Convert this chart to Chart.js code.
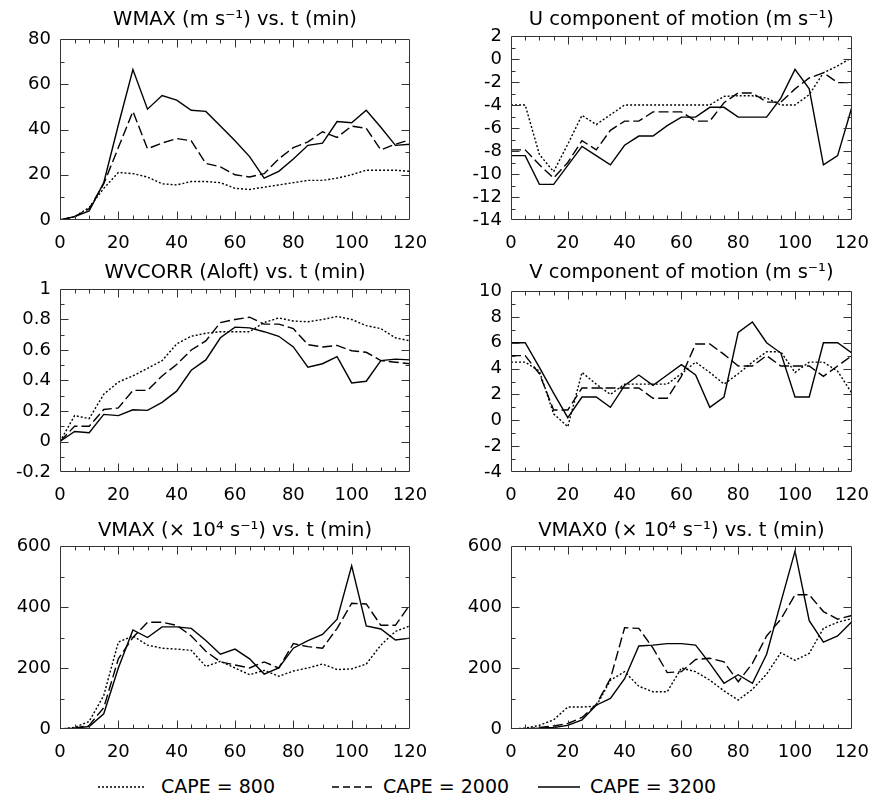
<!DOCTYPE html>
<html>
<head>
<meta charset="utf-8">
<script src="https://cdn.jsdelivr.net/npm/chart.js@4"></script>
<style>
  body { margin: 0; background: #fff; }
  #page { position: relative; width: 882px; height: 801px; overflow: hidden; font-family: "DejaVu Sans", sans-serif; color: #000; }
  #page canvas { position: absolute; }
  .sample { position: absolute; top: 785px; }
  .key { position: absolute; top: 775px; line-height: 22px; font-size: 19px; white-space: nowrap; }
</style>
</head>
<body>
<div id="page">
  <svg class="sample" style="left:98px" width="48" height="4"><line x1="0" y1="2" x2="48" y2="2" stroke="#000" stroke-width="1.3" stroke-dasharray="2 2"/></svg>
  <span class="key" style="left:161px">CAPE = 800</span>
  <svg class="sample" style="left:332px" width="42" height="4"><line x1="0" y1="2" x2="42" y2="2" stroke="#000" stroke-width="1.3" stroke-dasharray="7 4"/></svg>
  <span class="key" style="left:383px">CAPE = 2000</span>
  <svg class="sample" style="left:538px" width="42" height="4"><line x1="0" y1="2" x2="42" y2="2" stroke="#000" stroke-width="1.3"/></svg>
  <span class="key" style="left:590px">CAPE = 3200</span>
</div>
<script>
const times = [0, 5, 10, 15, 20, 25, 30, 35, 40, 45, 50, 55, 60, 65, 70, 75, 80, 85, 90, 95, 100, 105, 110, 115, 120]
const cases = ["CAPE = 800", "CAPE = 2000", "CAPE = 3200"]

const wmax800 = [0, 1.5, 5.5, 14, 21, 20.5, 19, 16, 15.5, 17, 17, 16.5, 14, 13.5, 14.5, 15.5, 16.5, 17.5, 17.5, 18.5, 20, 22, 22, 22, 21.5]
const wmax2000 = [0, 1.5, 5, 16, 32, 48, 31.5, 34, 36, 35, 25, 23.5, 20, 19, 20.5, 27, 32, 34.5, 39, 36.5, 41.5, 40.5, 31, 33.5, 35.5]
const wmax3200 = [0, 1.5, 4, 16.5, 42, 66.5, 49, 55, 53, 48.5, 48, 41.5, 35, 28, 18.5, 21.5, 27, 33, 34, 43.5, 43, 48.5, 41, 33, 33.5]

const u800 = [-4, -4, -8.3, -9.8, -7.4, -4.9, -5.7, -4.85, -4, -4, -4, -4, -4, -4, -4, -3.25, -3.2, -3.2, -3.4, -4, -4, -3.1, -1.2, -0.6, 0.1]
const u2000 = [-7.9, -7.9, -9.2, -10.35, -9, -7.1, -7.9, -6.2, -5.4, -5.4, -4.6, -4.6, -4.6, -5.4, -5.4, -3.8, -2.95, -2.95, -3.75, -3.75, -2.6, -1.65, -1.2, -2.05, -2.05]
const u3200 = [-8.4, -8.4, -10.9, -10.9, -9.25, -7.6, -8.4, -9.2, -7.5, -6.7, -6.7, -5.8, -5.05, -5.05, -4.2, -4.2, -5.05, -5.05, -5.05, -3.4, -0.9, -2.6, -9.2, -8.4, -4.2]

const wv800 = [0, 0.17, 0.15, 0.31, 0.39, 0.43, 0.48, 0.53, 0.64, 0.69, 0.71, 0.72, 0.72, 0.72, 0.78, 0.81, 0.79, 0.785, 0.8, 0.82, 0.8, 0.76, 0.74, 0.68, 0.66]
const wv2000 = [0, 0.1, 0.1, 0.21, 0.22, 0.335, 0.335, 0.43, 0.505, 0.6, 0.66, 0.78, 0.8, 0.815, 0.77, 0.77, 0.74, 0.635, 0.62, 0.63, 0.595, 0.585, 0.53, 0.52, 0.51]
const wv3200 = [0, 0.066, 0.057, 0.178, 0.17, 0.208, 0.204, 0.257, 0.33, 0.467, 0.535, 0.68, 0.75, 0.745, 0.72, 0.69, 0.62, 0.487, 0.51, 0.557, 0.384, 0.395, 0.53, 0.54, 0.535]

const v800 = [4.5, 4.5, 3.8, 0.5, -0.5, 3.7, 2.8, 2.0, 2.8, 2.8, 2.8, 2.8, 3.6, 4.5, 3.7, 2.8, 3.6, 4.5, 5.3, 5.3, 3.7, 4.5, 4.5, 3.8, 2.1]
const v2000 = [5.0, 5.0, 3.6, 0.8, 0.8, 2.5, 2.5, 2.5, 2.5, 2.5, 1.7, 1.7, 3.4, 5.9, 5.9, 5.1, 4.2, 4.2, 5.0, 4.2, 4.2, 4.2, 3.4, 4.2, 5.0]
const v3200 = [6, 6, 4.1, 2.1, 0.2, 1.8, 1.8, 1.0, 2.7, 3.5, 2.7, 3.5, 4.3, 3.5, 1.0, 1.8, 6.8, 7.6, 6.0, 5.2, 1.8, 1.8, 6.0, 6.0, 5.2]

const vmax800 = [0, 5, 25, 110, 285, 305, 275, 265, 262, 258, 205, 222, 200, 178, 192, 173, 190, 200, 213, 195, 197, 213, 275, 320, 338]
const vmax2000 = [0, 3, 12, 70, 230, 300, 350, 350, 340, 305, 255, 220, 210, 200, 220, 200, 280, 270, 265, 330, 412, 410, 340, 340, 408]
const vmax3200 = [0, 3, 8, 50, 200, 325, 300, 335, 335, 330, 290, 245, 262, 230, 180, 200, 265, 290, 310, 360, 535, 338, 328, 292, 298]

const vmax0800 = [0, 3, 12, 30, 72, 72, 75, 160, 188, 140, 122, 122, 200, 188, 160, 125, 95, 130, 180, 250, 225, 248, 330, 350, 362]
const vmax02000 = [0, 0, 5, 10, 18, 38, 80, 165, 332, 330, 265, 185, 188, 228, 232, 220, 155, 215, 305, 360, 440, 440, 385, 360, 372]
const vmax03200 = [0, 0, 3, 5, 12, 30, 78, 100, 165, 272, 275, 280, 280, 275, 215, 150, 178, 150, 245, 415, 583, 355, 285, 305, 352]

const family = "'DejaVu Sans', sans-serif"
const dashes = [[2, 2], [10, 4], []]
const titleSize = 19.5
const tickSize = 18

// box = canvas rect, area = wanted plot frame (page px)
const panels = [
  { title: "WMAX (m s⁻¹) vs. t (min)", series: [wmax800, wmax2000, wmax3200],
    yMin: 0, yMax: 80, yStep: 20, yMinor: 10, box: [0, 0, 441, 262], area: [60, 39, 410, 220], titleY: 20 },
  { title: "U component of motion (m s⁻¹)", series: [u800, u2000, u3200],
    yMin: -14, yMax: 2, yStep: 2, yMinor: 1, box: [441, 0, 441, 262], area: [511, 36, 862, 220], titleY: 20 },
  { title: "WVCORR (Aloft) vs. t (min)", series: [wv800, wv2000, wv3200],
    yMin: -0.2, yMax: 1, yStep: 0.2, yMinor: 0.1, box: [0, 258, 441, 252], area: [60, 289, 410, 472], titleY: 273 },
  { title: "V component of motion (m s⁻¹)", series: [v800, v2000, v3200],
    yMin: -4, yMax: 10, yStep: 2, yMinor: 1, box: [441, 258, 441, 252], area: [511, 291, 862, 472], titleY: 273 },
  { title: "VMAX (× 10⁴ s⁻¹) vs. t (min)", series: [vmax800, vmax2000, vmax3200],
    yMin: 0, yMax: 600, yStep: 200, yMinor: 100, box: [0, 510, 441, 262], area: [60, 546, 410, 729], titleY: 531 },
  { title: "VMAX0 (× 10⁴ s⁻¹) vs. t (min)", series: [vmax0800, vmax02000, vmax03200],
    yMin: 0, yMax: 600, yStep: 200, yMinor: 100, box: [441, 510, 441, 262], area: [511, 546, 862, 729], titleY: 531 }
]

const onStep = (v, step) => Math.abs(v / step - Math.round(v / step)) < 1e-6

// frame + inward ticks on all four sides
const frameTicks = {
  id: "frameTicks",
  afterDatasetsDraw(chart, args, o) {
    const { ctx, chartArea: a, scales: { x, y } } = chart
    const L = Math.round(a.left) + 0.5, R = Math.round(a.right) - 0.5
    const T = Math.round(a.top) + 0.5, B = Math.round(a.bottom) - 0.5
    ctx.save()
    ctx.strokeStyle = "#333"
    ctx.lineWidth = 1
    ctx.beginPath()
    const nx = Math.round((x.max - x.min) / o.xMinor)
    for (let i = 1; i < nx; i++) {
      const v = x.min + i * o.xMinor
      const px = Math.round(x.getPixelForValue(v)) + 0.5
      const len = onStep(v, o.xMajor) ? 8 : 4
      ctx.moveTo(px, B); ctx.lineTo(px, B - len)
      ctx.moveTo(px, T); ctx.lineTo(px, T + len)
    }
    const ny = Math.round((y.max - y.min) / o.yMinor)
    for (let i = 1; i < ny; i++) {
      const v = y.min + i * o.yMinor
      const py = Math.round(y.getPixelForValue(v)) + 0.5
      const len = onStep(v, o.yMajor) ? 8 : 4
      ctx.moveTo(L, py); ctx.lineTo(L + len, py)
      ctx.moveTo(R, py); ctx.lineTo(R - len, py)
    }
    ctx.rect(L, T, R - L, B - T)
    ctx.stroke()
    ctx.restore()
  }
}

const page = document.getElementById("page")
const lh = titleSize * 1.2

panels.forEach(p => {
  const [bl, bt, bw, bh] = p.box
  const [al, at, ar, ab] = p.area
  const canvas = document.createElement("canvas")
  canvas.width = bw
  canvas.height = bh
  canvas.style.left = bl + "px"
  canvas.style.top = bt + "px"
  page.appendChild(canvas)

  new Chart(canvas, {
    type: "line",
    data: {
      datasets: p.series.map((vals, i) => ({
        label: cases[i],
        data: times.map((t, k) => ({ x: t, y: vals[k] })),
        borderColor: "#000",
        borderWidth: 1.4,
        borderDash: dashes[i],
        pointRadius: 0,
        tension: 0,
        fill: false
      }))
    },
    options: {
      responsive: false,
      animation: false,
      devicePixelRatio: 1,
      layout: { padding: { left: 0, right: bl + bw - ar, top: p.titleY - bt - lh / 2, bottom: 0 } },
      plugins: {
        legend: { display: false },
        tooltip: { enabled: false },
        title: {
          display: true, text: p.title, fullSize: false, color: "#000",
          font: { family, size: titleSize, weight: "normal" },
          padding: { top: 0, bottom: at - p.titleY - lh / 2 }
        },
        frameTicks: { xMinor: 5, xMajor: 20, yMinor: p.yMinor, yMajor: p.yStep }
      },
      scales: {
        x: {
          type: "linear", min: 0, max: 120,
          grid: { display: false, drawTicks: false },
          border: { display: false },
          ticks: { stepSize: 20, padding: 13, autoSkip: false, maxRotation: 0, color: "#000", font: { family, size: tickSize } },
          afterFit: s => { s.height = bt + bh - ab }
        },
        y: {
          min: p.yMin, max: p.yMax,
          grid: { display: false, drawTicks: false },
          border: { display: false },
          ticks: { stepSize: p.yStep, padding: 9, autoSkip: false, color: "#000", font: { family, size: tickSize },
            callback: v => String(+v.toFixed(2)) },
          afterFit: s => { s.width = al - bl }
        }
      }
    },
    plugins: [frameTicks]
  })
})
</script>
</body>
</html>
